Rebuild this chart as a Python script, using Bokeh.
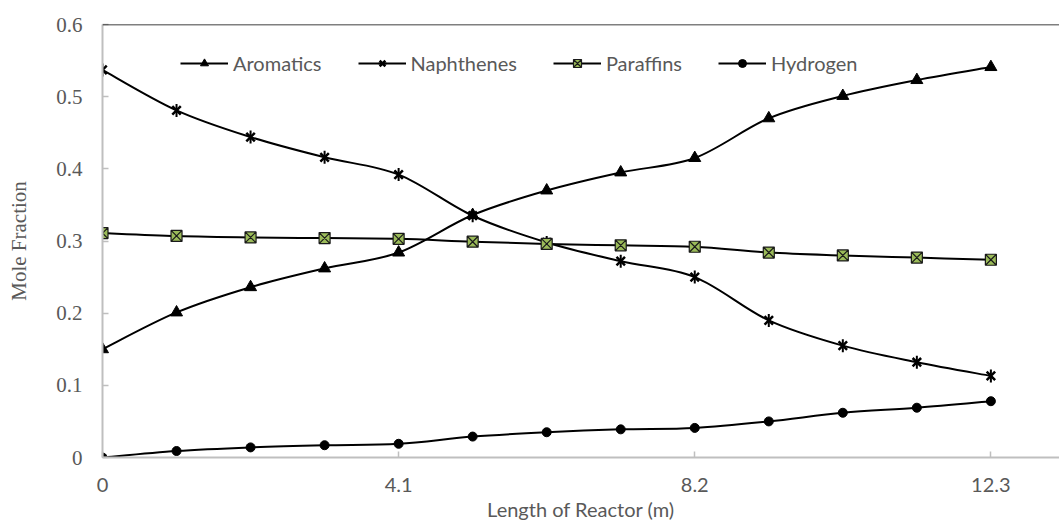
import numpy as np
from bokeh.plotting import figure
from bokeh.models import FixedTicker, Span, Legend, LegendItem, Range1d
from bokeh.embed import file_html
from bokeh.resources import INLINE

# ---- data ----
length_m = [0, 1.025, 2.05, 3.075, 4.1, 5.125, 6.15, 7.175, 8.2, 9.225, 10.25, 11.275, 12.3]
aromatics = [0.150, 0.201, 0.236, 0.262, 0.284, 0.336, 0.370, 0.395, 0.415, 0.470, 0.501, 0.523, 0.541]
naphthenes = [0.537, 0.481, 0.444, 0.416, 0.392, 0.335, 0.298, 0.272, 0.250, 0.190, 0.155, 0.132, 0.113]
paraffins = [0.311, 0.307, 0.305, 0.304, 0.303, 0.299, 0.296, 0.294, 0.292, 0.284, 0.280, 0.277, 0.274]
hydrogen = [0.000, 0.009, 0.014, 0.017, 0.019, 0.029, 0.035, 0.039, 0.041, 0.050, 0.062, 0.069, 0.078]
x_ticks = [0, 4.1, 8.2, 12.3]
y_ticks = [0, 0.1, 0.2, 0.3, 0.4, 0.5, 0.6]
series_names = ["Aromatics", "Naphthenes", "Paraffins", "Hydrogen"]

GRAY_TXT = "#595959"
AXIS_COL = "#BFBFBF"

p = figure(width=1059, height=523, x_range=Range1d(0, 13.25), y_range=Range1d(0, 0.6),
           output_backend="svg", toolbar_location=None,
           min_border_left=102, min_border_right=0, min_border_top=24, min_border_bottom=60)
p.grid.visible = False
p.outline_line_color = None
p.background_fill_color = "white"
p.border_fill_color = "white"


def smooth(xs, ys):
    x = np.asarray(xs, float)
    y = np.asarray(ys, float)
    n = len(x)
    xp = np.concatenate([[x[0]], x, [x[-1]]])
    yp = np.concatenate([[y[0]], y, [y[-1]]])
    x0, y0 = x[:-1], y[:-1]
    x1, y1 = x[1:], y[1:]
    cx0 = x0 + (xp[2:n + 1] - xp[0:n - 1]) / 6.0
    cy0 = y0 + (yp[2:n + 1] - yp[0:n - 1]) / 6.0
    cx1 = x1 - (xp[3:n + 2] - xp[1:n]) / 6.0
    cy1 = y1 - (yp[3:n + 2] - yp[1:n]) / 6.0
    return dict(x0=x0, y0=y0, x1=x1, y1=y1, cx0=cx0, cy0=cy0, cx1=cx1, cy1=cy1)


for ys in [aromatics, naphthenes, paraffins, hydrogen]:
    p.bezier(line_color="black", line_width=2, **smooth(length_m, ys))

# top line at 0.6
p.add_layout(Span(location=0.6, dimension="width", line_color="black", line_width=1.5))

r_a = p.scatter(length_m, aromatics, marker="triangle", size=12, fill_color="black", line_color="black")
r_n1 = p.scatter(length_m, naphthenes, marker="x", size=12, line_color="black", line_width=2.5)
r_n2 = p.scatter(length_m, naphthenes, marker="dash", angle=np.pi / 2, size=13, line_color="black", line_width=2)
r_p = p.scatter(length_m, paraffins, marker="square_x", size=11, fill_color="#9BBB59", line_color="#1a1a1a", line_width=1.2)
r_h = p.scatter(length_m, hydrogen, marker="circle", size=9, fill_color="black", line_color="black")

# single-point line, used only to draw the line segment in the legend
leg_line = p.line(x=[length_m[0]], y=[hydrogen[0]], line_color="black", line_width=2)

legend = Legend(items=[
    LegendItem(label=series_names[0], renderers=[leg_line, r_a]),
    LegendItem(label=series_names[1], renderers=[leg_line, r_n1, r_n2]),
    LegendItem(label=series_names[2], renderers=[leg_line, r_p]),
    LegendItem(label=series_names[3], renderers=[leg_line, r_h]),
], location=(78, 382), orientation="horizontal")
legend.glyph_width = 48
legend.glyph_height = 20
legend.label_standoff = 5
legend.spacing = 36
legend.padding = 0
legend.margin = 0
legend.border_line_color = None
legend.background_fill_alpha = 0
legend.label_text_font = "Lato"
legend.label_text_font_size = "20px"
legend.label_text_color = GRAY_TXT
p.add_layout(legend, "center")

# axes
ya = p.yaxis[0]
ya.ticker = FixedTicker(ticks=y_ticks)
ya.major_label_overrides = {0: "0"}
ya.axis_line_color = AXIS_COL
ya.axis_line_width = 2
ya.major_tick_line_color = AXIS_COL
ya.major_tick_line_width = 1.5
ya.major_tick_in = 6
ya.major_tick_out = 0
ya.minor_tick_line_color = None
ya.major_label_standoff = 20
ya.major_label_text_font = "Liberation Serif"
ya.major_label_text_font_size = "21px"
ya.major_label_text_color = GRAY_TXT
ya.axis_label = "Mole Fraction"
ya.axis_label_text_font = "Liberation Serif"
ya.axis_label_text_font_size = "21px"
ya.axis_label_text_font_style = "normal"
ya.axis_label_text_color = GRAY_TXT
ya.axis_label_standoff = 22

xa = p.xaxis[0]
xa.ticker = FixedTicker(ticks=x_ticks)
xa.major_label_overrides = {0: "0"}
xa.axis_line_color = AXIS_COL
xa.axis_line_width = 2
xa.major_tick_line_color = AXIS_COL
xa.major_tick_line_width = 1.5
xa.major_tick_in = 6
xa.major_tick_out = 0
xa.minor_tick_line_color = None
xa.major_label_standoff = 20
xa.major_label_text_font = "Lato"
xa.major_label_text_font_size = "20px"
xa.major_label_text_color = GRAY_TXT
xa.axis_label = "Length of Reactor (m)"
xa.axis_label_text_font = "Lato"
xa.axis_label_text_font_size = "20px"
xa.axis_label_text_font_style = "normal"
xa.axis_label_text_color = GRAY_TXT
xa.axis_label_standoff = 2

open("out.html", "w").write(file_html(p, INLINE))
